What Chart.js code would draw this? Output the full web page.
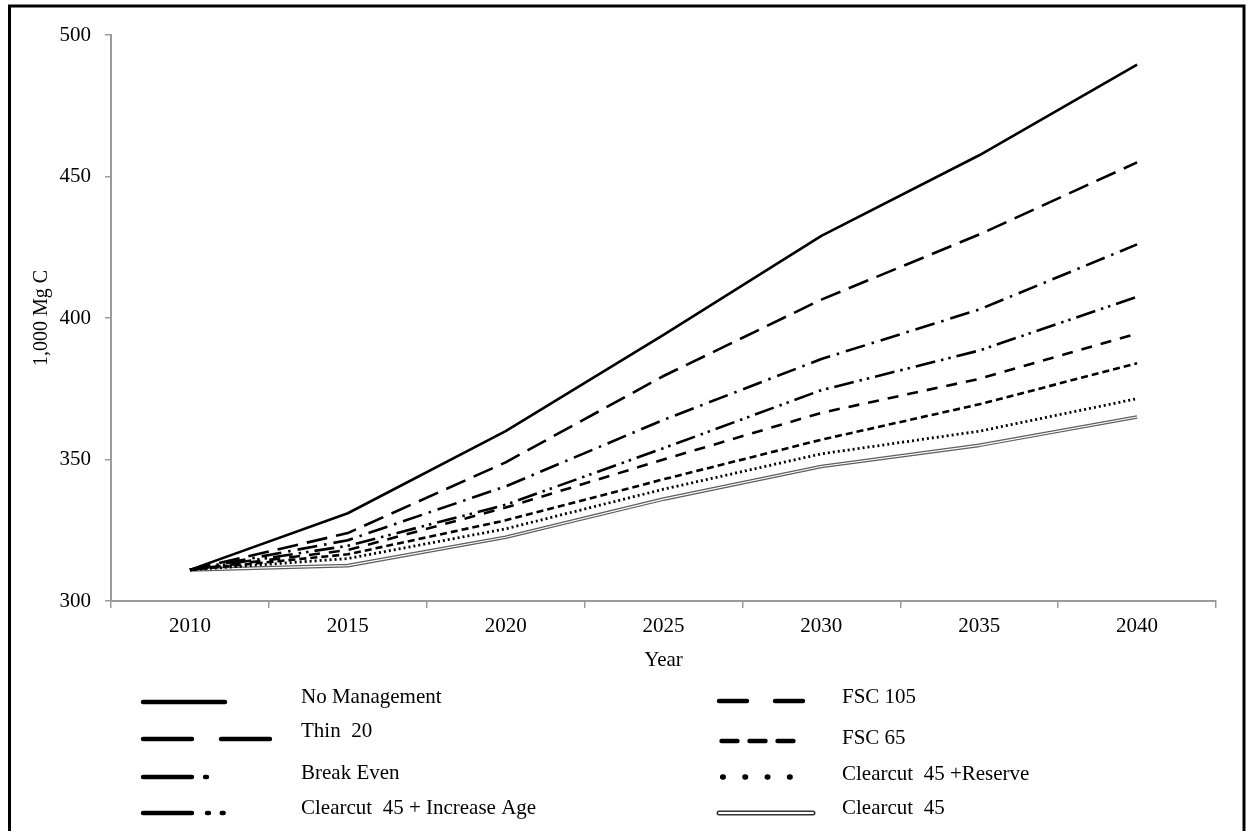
<!DOCTYPE html>
<html>
<head>
<meta charset="utf-8">
<script src="https://cdn.jsdelivr.net/npm/chart.js@4.4.1/dist/chart.umd.min.js"></script>
<style>
  html, body { margin: 0; padding: 0; background: #fff; }
  canvas { display: block; }
</style>
</head>
<body>
<canvas id="chart" width="1247" height="831"></canvas>
<script>
// Carbon stock projections (1,000 Mg C) by management scenario
const years = ['2010', '2015', '2020', '2025', '2030', '2035', '2040'];
const yTicks = [300, 350, 400, 450, 500];

const noManagement    = [311, 331, 360, 394, 429, 457.5, 489.5];
const thin20          = [311, 324, 349, 379.5, 406.5, 429.5, 455];
const breakEven       = [311, 321.5, 340.5, 364, 385.5, 403, 426];
const cc45IncreaseAge = [311, 319.5, 334, 354, 374.5, 388.5, 407.5];
const fsc105          = [311, 318, 333, 350, 366.5, 378.5, 394.5];
const fsc65           = [311, 316.5, 328.5, 343, 357, 369.5, 384];
const cc45Reserve     = [311, 315, 325.5, 339.5, 352, 360, 371.5];
const cc45            = [311, 312.5, 322.5, 336, 347.5, 355, 365];

const seriesNames = [
  'No Management', 'Thin  20', 'Break Even', 'Clearcut  45 + Increase Age',
  'FSC 105', 'FSC 65', 'Clearcut  45 +Reserve', 'Clearcut  45'
];
const seriesValues = [
  noManagement, thin20, breakEven, cc45IncreaseAge,
  fsc105, fsc65, cc45Reserve, cc45
];

// Line patterns for the plot and for the legend keys
const lineStyles = [
  { dash: [],                      width: 2.6, legendDash: [],                        legendLen: 82 },
  { dash: [21, 9],                 width: 2.6, legendDash: [49, 29],                  legendLen: 127 },
  { dash: [20, 7, 2.5, 7],         width: 2.6, legendDash: [49, 13, 2, 200],          legendLen: 66 },
  { dash: [20, 6, 2.5, 5, 2.5, 6], width: 2.6, legendDash: [49, 15, 2, 12.7, 2, 200], legendLen: 82 },
  { dash: [11, 9],                 width: 2.6, legendDash: [28, 28],                  legendLen: 84 },
  { dash: [7, 4],                  width: 2.6, legendDash: [16, 12],                  legendLen: 72 },
  { dash: [2, 3],                  width: 2.8, legendDash: [0.5, 21.8],               legendLen: 68, legendWidth: 5.5 },
  { dash: [],                      width: 3.6, legendDash: [],                        legendLen: 94, double: true }
];

// Legend layout: two columns of four rows
const legendSlots = [
  { sx: 143,   sy: 702, tx: 301, ty: 697 },
  { sx: 143,   sy: 739, tx: 301, ty: 731 },
  { sx: 143,   sy: 777, tx: 301, ty: 773 },
  { sx: 143,   sy: 813, tx: 301, ty: 808 },
  { sx: 719,   sy: 701, tx: 842, ty: 697 },
  { sx: 721.5, sy: 741, tx: 842, ty: 738 },
  { sx: 722.7, sy: 777, tx: 842, ty: 774 },
  { sx: 719,   sy: 813, tx: 842, ty: 808 }
];

const serif = 'Liberation Serif, Times New Roman, serif';
const axisGray = '#9b9b9b';

const datasets = seriesNames.map((name, i) => ({
  label: name,
  data: seriesValues[i],
  borderColor: lineStyles[i].double ? '#5e5e5e' : '#000',
  borderWidth: lineStyles[i].width,
  borderDash: lineStyles[i].dash,
  borderCapStyle: 'butt',
  borderJoinStyle: 'round',
  pointRadius: 0,
  tension: 0,
  fill: false
}));

// Hollow centre stroke for the double-line series
const doubleLinePlugin = {
  id: 'doubleLine',
  afterDatasetDraw(chart, args) {
    if (!lineStyles[args.index] || !lineStyles[args.index].double) return;
    const pts = args.meta.data;
    const ctx = chart.ctx;
    ctx.save();
    ctx.beginPath();
    pts.forEach((p, k) => k ? ctx.lineTo(p.x, p.y) : ctx.moveTo(p.x, p.y));
    ctx.strokeStyle = '#fff';
    ctx.lineWidth = 1.1;
    ctx.lineJoin = 'round';
    ctx.stroke();
    ctx.restore();
  }
};

// Legend keys drawn below the axis
const keyLegendPlugin = {
  id: 'keyLegend',
  afterDraw(chart) {
    const ctx = chart.ctx;
    ctx.save();
    chart.data.datasets.forEach((ds, i) => {
      const st = lineStyles[i];
      const slot = legendSlots[i];
      ctx.beginPath();
      ctx.moveTo(slot.sx, slot.sy);
      ctx.lineTo(slot.sx + st.legendLen, slot.sy);
      ctx.setLineDash(st.legendDash);
      ctx.lineCap = 'round';
      if (st.double) {
        ctx.strokeStyle = '#333';
        ctx.lineWidth = 5;
        ctx.stroke();
        ctx.strokeStyle = '#fff';
        ctx.lineWidth = 2;
        ctx.stroke();
      } else {
        ctx.strokeStyle = '#000';
        ctx.lineWidth = st.legendWidth || 4.4;
        ctx.stroke();
      }
      ctx.setLineDash([]);
      ctx.fillStyle = '#000';
      ctx.font = '21px ' + serif;
      ctx.textAlign = 'left';
      ctx.textBaseline = 'middle';
      ctx.fillText(ds.label, slot.tx, slot.ty);
    });
    ctx.restore();
  }
};

// Outer frame around the figure
const framePlugin = {
  id: 'frame',
  afterDraw(chart) {
    const ctx = chart.ctx;
    ctx.save();
    ctx.strokeStyle = '#000';
    ctx.lineWidth = 3;
    ctx.strokeRect(9.5, 6, 1234.5, 840);
    ctx.restore();
  }
};

new Chart(document.getElementById('chart'), {
  type: 'line',
  data: { labels: years, datasets },
  plugins: [doubleLinePlugin, keyLegendPlugin, framePlugin],
  options: {
    responsive: false,
    animation: false,
    devicePixelRatio: 1,
    layout: { padding: { left: 0, right: 31, top: 35, bottom: 158 } },
    plugins: { legend: { display: false }, tooltip: { enabled: false } },
    scales: {
      x: {
        offset: true,
        grid: { offset: true, drawOnChartArea: false, drawTicks: true, tickLength: 7, color: axisGray, lineWidth: 1.5 },
        border: { color: axisGray, width: 2 },
        ticks: { color: '#000', font: { family: serif, size: 21 }, padding: 6, maxRotation: 0, autoSkip: false },
        title: { display: true, text: 'Year', color: '#000', font: { family: serif, size: 21 }, padding: { top: 0, bottom: 0 } },
        afterFit(scale) { scale.height = 72; }
      },
      y: {
        min: 300,
        max: 500,
        afterBuildTicks(scale) { scale.ticks = yTicks.map(v => ({ value: v })); },
        grid: { drawOnChartArea: false, drawTicks: true, tickLength: 6, color: axisGray, lineWidth: 1.5 },
        border: { color: axisGray, width: 2 },
        ticks: { color: '#000', font: { family: serif, size: 21 }, padding: 14 },
        title: { display: true, text: '1,000 Mg C', color: '#000', font: { family: serif, size: 20 }, padding: { top: 30, bottom: 0 } },
        afterFit(scale) { scale.width = 111; }
      }
    }
  }
});
</script>
</body>
</html>
